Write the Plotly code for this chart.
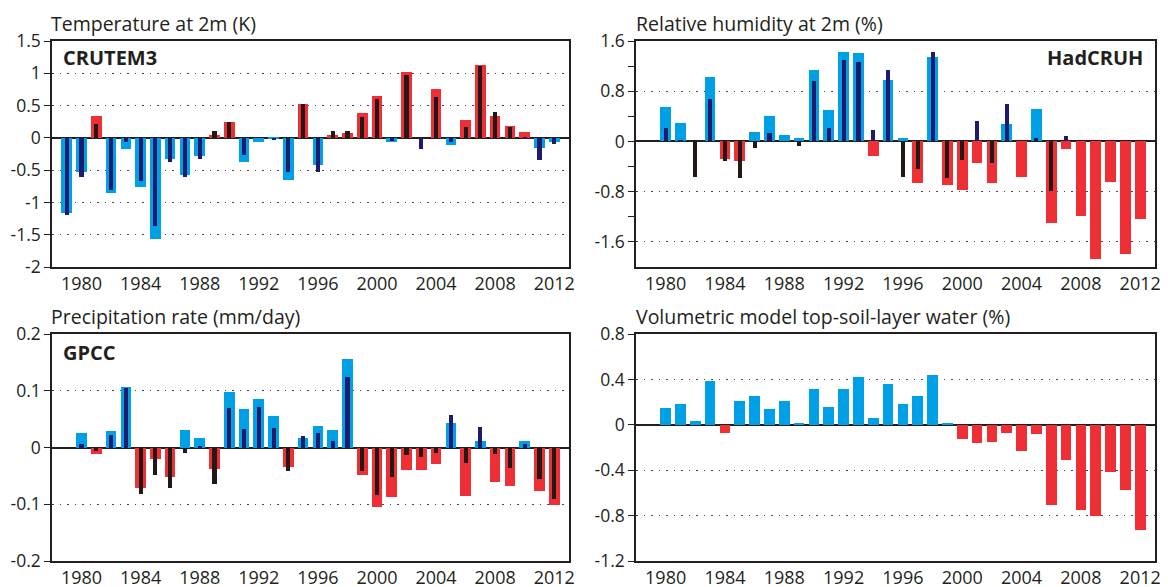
import plotly.graph_objects as go

years = list(range(1979, 2013))

# Temperature at 2m (K): CRUTEM3 (wide) and thin overlay series
temp_obs = [-1.17, -0.53, 0.34, -0.86, -0.165, -0.76, -1.57, -0.32, -0.57, -0.28,
            0.04, 0.25, -0.38, -0.06, -0.01, -0.66, 0.53, -0.42, 0.04, 0.07,
            0.38, 0.65, -0.06, 1.02, 0.0, 0.75, -0.11, 0.27, 1.13, 0.34,
            0.18, 0.09, -0.16, -0.06]
temp_thin = [-1.20, -0.61, 0.22, -0.80, -0.07, -0.67, -1.36, -0.38, -0.61, -0.32,
             0.10, 0.24, -0.27, 0.0, -0.04, -0.53, 0.53, -0.53, 0.10, 0.10,
             0.33, 0.60, -0.05, 0.97, -0.18, 0.64, -0.06, 0.17, 1.12, 0.40,
             0.17, -0.02, -0.34, -0.10]

# Relative humidity at 2m (%): HadCRUH (wide) and thin overlay series
rh_obs = [None, 0.55, 0.29, 0.0, 1.03, -0.28, -0.31, 0.15, 0.40, 0.10,
          0.06, 1.14, 0.50, 1.42, 1.41, -0.23, 0.98, 0.06, -0.66, 1.34,
          -0.69, -0.78, -0.34, -0.66, 0.27, -0.57, 0.51, -1.30, -0.12, -1.19,
          -1.87, -0.64, -1.80, -1.23]
rh_thin = [None, 0.22, 0.02, -0.57, 0.68, -0.31, -0.59, -0.11, 0.13, 0.0,
           -0.07, 0.97, 0.21, 1.29, 1.27, 0.18, 1.14, -0.56, -0.44, 1.42,
           -0.58, -0.29, 0.33, -0.35, 0.59, 0.0, 0.06, -0.79, 0.08, None,
           None, None, None, None]

# Precipitation rate (mm/day): GPCC (wide) and thin overlay series
pr_obs = [None, 0.025, -0.011, 0.029, 0.106, -0.071, -0.021, -0.052, 0.031, 0.016,
          -0.038, 0.097, 0.067, 0.086, 0.056, -0.035, 0.016, 0.038, 0.031, 0.156,
          -0.048, -0.104, -0.088, -0.039, -0.039, -0.029, 0.044, -0.085, 0.011, -0.061,
          -0.068, 0.012, -0.076, -0.101]
pr_thin = [None, 0.006, -0.006, 0.022, 0.105, -0.082, -0.048, -0.072, -0.009, 0.002,
           -0.065, 0.069, 0.032, 0.072, 0.035, -0.042, 0.021, 0.025, 0.011, 0.124,
           -0.042, -0.083, -0.052, -0.014, -0.017, -0.009, 0.058, -0.027, 0.036, -0.012,
           -0.036, 0.006, -0.055, -0.091]

# Volumetric model top-soil-layer water (%)
sw_obs = [None, 0.145, 0.18, 0.03, 0.39, -0.074, 0.21, 0.25, 0.136, 0.21,
          0.01, 0.315, 0.16, 0.315, 0.42, 0.056, 0.357, 0.183, 0.25, 0.437,
          0.009, -0.127, -0.162, -0.153, -0.074, -0.23, -0.08, -0.71, -0.31, -0.75,
          -0.80, -0.42, -0.57, -0.93]

titles = ["Temperature at 2m (K)", "Relative humidity at 2m (%)",
          "Precipitation rate (mm/day)", "Volumetric model top-soil-layer water (%)"]
panel_labels = ["CRUTEM3", "HadCRUH", "GPCC"]

year_ticks = [1980, 1984, 1988, 1992, 1996, 2000, 2004, 2008, 2012]

temp_ticks = [1.5, 1, 0.5, 0, -0.5, -1, -1.5, -2]
temp_ticktext = ["1.5", "1", "0.5", "0", "-0.5", "-1", "-1.5", "-2"]
rh_ticks = [1.6, 0.8, 0, -0.8, -1.6]
rh_ticktext = ["1.6", "0.8", "0", "-0.8", "-1.6"]
rh_minor = [1.2, 0.4, -0.4, -1.2]
pr_ticks = [0.2, 0.1, 0, -0.1, -0.2]
pr_ticktext = ["0.2", "0.1", "0", "-0.1", "-0.2"]
sw_ticks = [0.8, 0.4, 0, -0.4, -0.8, -1.2]
sw_ticktext = ["0.8", "0.4", "0", "-0.4", "-0.8", "-1.2"]

BLUE = "#00a0e6"
RED = "#ee2f36"
NAVY = "#1e1b6e"
BLACK = "#231815"
INK = "#231f20"
FONT = "Open Sans"

W_WIDE = 0.72
W_THIN = 0.28


def colors(vals, pos, neg):
    return [pos if (v is not None and v >= 0) else neg for v in vals]


fig = go.Figure()

# panel 1: temperature (warm = red)
fig.add_trace(go.Bar(x=years, y=temp_obs, width=W_WIDE, marker_color=colors(temp_obs, RED, BLUE),
                     marker_line_width=0, xaxis="x", yaxis="y"))
fig.add_trace(go.Bar(x=years, y=temp_thin, width=W_THIN, marker_color=colors(temp_thin, BLACK, NAVY),
                     marker_line_width=0, xaxis="x", yaxis="y"))
# panel 2: humidity
fig.add_trace(go.Bar(x=years, y=rh_obs, width=W_WIDE, marker_color=colors(rh_obs, BLUE, RED),
                     marker_line_width=0, xaxis="x2", yaxis="y2"))
fig.add_trace(go.Bar(x=years, y=rh_thin, width=W_THIN, marker_color=colors(rh_thin, NAVY, BLACK),
                     marker_line_width=0, xaxis="x2", yaxis="y2"))
# panel 3: precipitation
fig.add_trace(go.Bar(x=years, y=pr_obs, width=W_WIDE, marker_color=colors(pr_obs, BLUE, RED),
                     marker_line_width=0, xaxis="x3", yaxis="y3"))
fig.add_trace(go.Bar(x=years, y=pr_thin, width=W_THIN, marker_color=colors(pr_thin, NAVY, BLACK),
                     marker_line_width=0, xaxis="x3", yaxis="y3"))
# panel 4: soil water
fig.add_trace(go.Bar(x=years, y=sw_obs, width=W_WIDE, marker_color=colors(sw_obs, BLUE, RED),
                     marker_line_width=0, xaxis="x4", yaxis="y4"))

FW, FH = 1168, 587
OFF = 8  # page offset of the figure inside the browser window


def px_x(v):
    return (v - OFF) / FW


def px_y(v):
    return 1 - (v - OFF) / FH


xdom_l = [px_x(52), px_x(569)]
xdom_r = [px_x(636), px_x(1155)]
ydom_t = [px_y(267), px_y(41)]
ydom_b = [px_y(561), px_y(334)]


def xax(dom, anchor):
    return dict(domain=dom, anchor=anchor, range=[1978, 2013], tickvals=year_ticks,
                showgrid=False, zeroline=False, showline=True, linecolor=INK,
                linewidth=1.5, mirror=True, ticks="", automargin=False,
                tickfont=dict(family=FONT, size=18, color=INK), fixedrange=True)


def yax(dom, anchor, rng, tv, tt, minor=None):
    d = dict(domain=dom, anchor=anchor, range=rng, tickvals=tv, ticktext=tt,
             showgrid=True, gridcolor="#4a4a4a", griddash="1.5px,6px", gridwidth=1.4,
             zeroline=True, zerolinecolor=INK, zerolinewidth=1.5,
             showline=True, linecolor=INK, linewidth=1.5, mirror=True,
             ticks="outside", ticklen=6, tickwidth=1.3, tickcolor=INK, automargin=False,
             tickfont=dict(family=FONT, size=17.5, color=INK), fixedrange=True)
    if minor is not None:
        d["minor"] = dict(tickvals=minor, ticks="outside", ticklen=6, tickwidth=1.3,
                          tickcolor=INK, showgrid=False)
    return d


fig.update_layout(
    template="none",
    width=FW, height=FH,
    margin=dict(l=0, r=0, t=0, b=0, pad=0),
    paper_bgcolor="white", plot_bgcolor="white",
    font=dict(family=FONT, color=INK),
    barmode="overlay", bargap=0, showlegend=False,
    xaxis=xax(xdom_l, "y"), yaxis=yax(ydom_t, "x", [-2, 1.5], temp_ticks, temp_ticktext),
    xaxis2=xax(xdom_r, "y2"), yaxis2=yax(ydom_t, "x2", [-2, 1.6], rh_ticks, rh_ticktext, rh_minor),
    xaxis3=xax(xdom_l, "y3"), yaxis3=yax(ydom_b, "x3", [-0.2, 0.2], pr_ticks, pr_ticktext),
    xaxis4=xax(xdom_r, "y4"), yaxis4=yax(ydom_b, "x4", [-1.2, 0.8], sw_ticks, sw_ticktext),
)

title_pos = [(50, 23), (635, 23), (50, 316), (635, 316)]
for t, (px, py) in zip(titles, title_pos):
    fig.add_annotation(text=t, xref="paper", yref="paper", x=px_x(px), y=px_y(py),
                       xanchor="left", yanchor="middle", showarrow=False, borderpad=0,
                       font=dict(family=FONT, size=19.5, color=INK))

label_pos = [(62, 58, "left"), (1144, 58, "right"), (62, 352, "left")]
for t, (px, py, anc) in zip(panel_labels, label_pos):
    fig.add_annotation(text="<b>" + t + "</b>", xref="paper", yref="paper", x=px_x(px), y=px_y(py),
                       xanchor=anc, yanchor="middle", showarrow=False, borderpad=0,
                       font=dict(family=FONT, size=20, color=INK))

fig.write_html("out.html")
